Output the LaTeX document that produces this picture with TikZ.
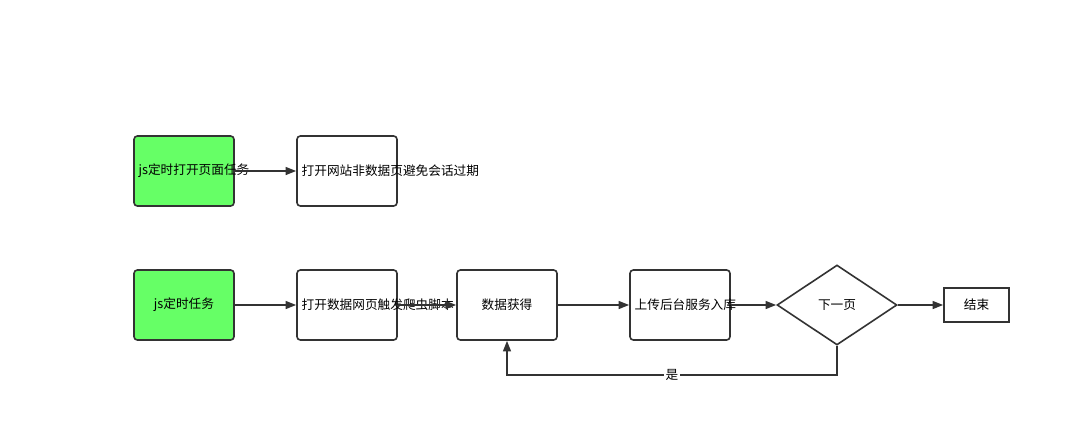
\documentclass[tikz,border=0pt]{standalone}
\usepackage{fontspec}
\setmainfont{Noto Sans CJK SC}
\usetikzlibrary{positioning, shapes.geometric, arrows.meta}

\definecolor{linegray}{HTML}{333333}
\definecolor{taskgreen}{HTML}{66FF66}

\tikzset{
	stepbox/.style={draw=linegray, line width=1.2pt, rounded corners=2.5pt, minimum width=75pt, minimum height=52.5pt, text width=68pt, align=center, font=\fontsize{9.5pt}{12pt}\selectfont, inner sep=1pt},
	greenbox/.style={stepbox, fill=taskgreen},
	choice/.style={draw=linegray, line width=1.2pt, diamond, aspect=1.5, minimum width=90pt, minimum height=60pt, inner sep=0pt, font=\fontsize{9.5pt}{12pt}\selectfont},
	endbox/.style={draw=linegray, line width=1.2pt, minimum width=48.75pt, minimum height=25.5pt, font=\fontsize{9.5pt}{12pt}\selectfont},
	flow/.style={draw=linegray, line width=1.2pt, -{Triangle[length=8pt, width=6pt]}}
}

\begin{document}
\begin{tikzpicture}[x=0.75pt, y=-0.75pt]
	\useasboundingbox (0,0) rectangle (1071,436);
	% upper row
	\node[greenbox] (timer) at (184,171) {js定时打开页面任务};
	\node[stepbox] (keepalive) at (347,171) {打开网站非数据页避免会话过期};
	\draw[flow] (timer) -- (keepalive);
	% lower row
	\node[greenbox] (job) at (184,305) {js定时任务};
	\node[stepbox] (open) at (347,305) {打开数据网页触发爬虫脚本};
	\node[stepbox] (fetch) at (507,305) {数据获得};
	\node[stepbox] (upload) at (680,305) {上传后台服务入库};
	\node[choice] (next) at (837,305) {下一页};
	\node[endbox] (stop) at (976.5,305) {结束};
	\draw[flow] (job) -- (open);
	\draw[flow] (open) -- (fetch);
	\draw[flow] (fetch) -- (upload);
	\draw[flow] (upload) -- (next);
	\draw[flow] (next) -- (stop);
	\draw[flow] (next.south) |- (507,375) node[pos=0.75, fill=white, inner sep=1pt, font=\fontsize{9.5pt}{12pt}\selectfont] {是} -- (fetch.south);
\end{tikzpicture}
\end{document}
